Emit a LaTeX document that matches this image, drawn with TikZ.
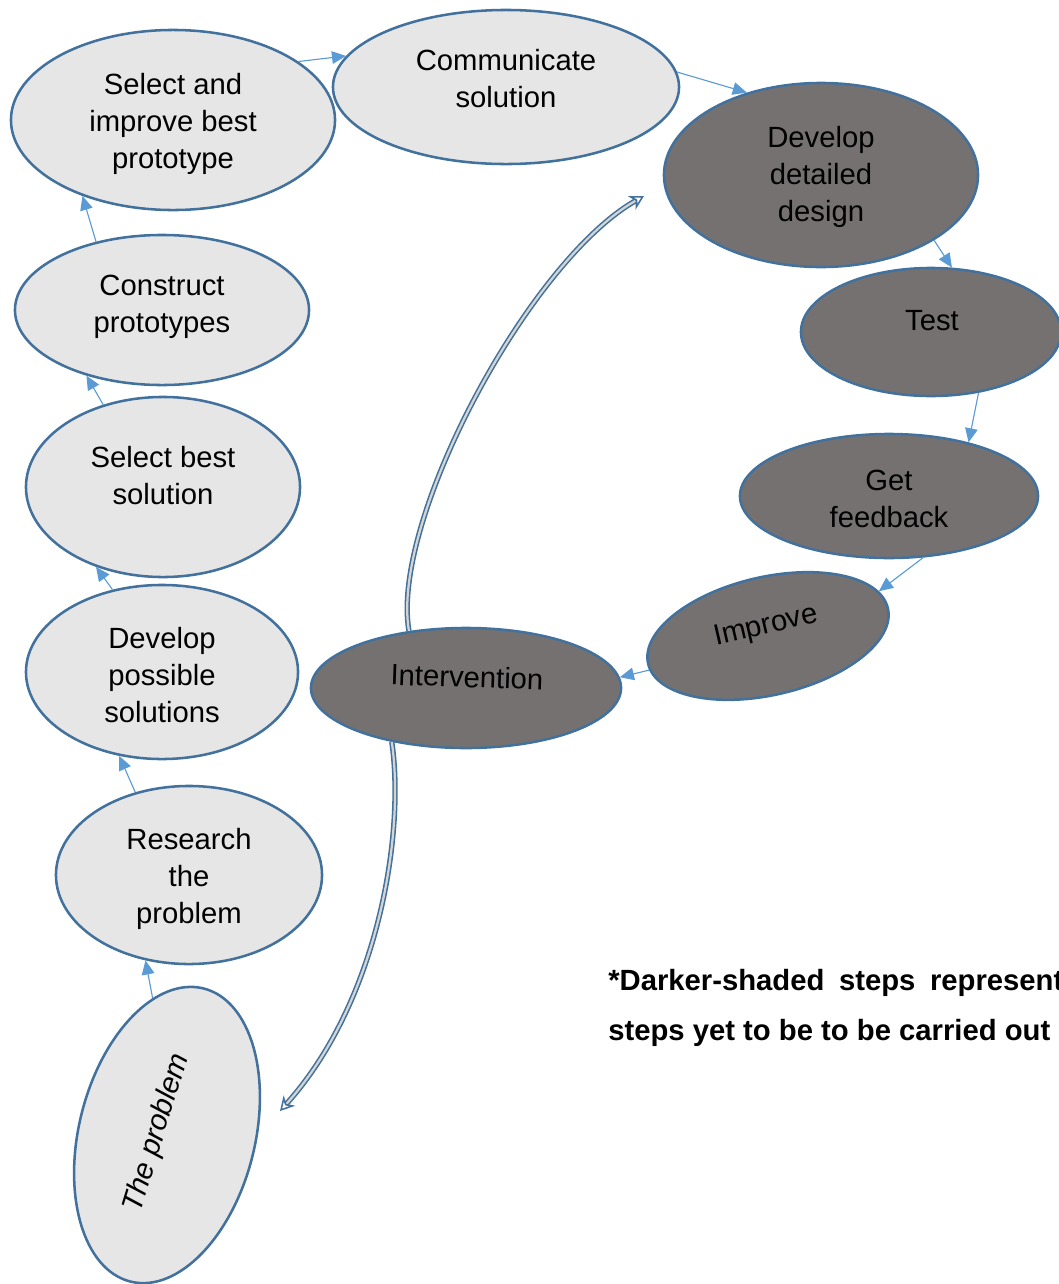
\documentclass[tikz,border=0pt]{standalone}
\usepackage{fontspec}
\setmainfont{Liberation Sans}
\usetikzlibrary{arrows.meta,shapes.geometric}
\definecolor{stepline}{HTML}{41719C}
\definecolor{stepfill}{HTML}{E6E6E6}
\definecolor{todofill}{HTML}{767171}
\definecolor{linkcol}{HTML}{5B9BD5}
\definecolor{hollowfill}{HTML}{D4D4D4}

\begin{document}
\begin{tikzpicture}[x=0.025cm,y=-0.025cm,ellr/.style 2 args={minimum width=#1*0.05cm,minimum height=#2*0.05cm}]
	\tikzstyle{done}=[ellipse,draw=stepline,line width=1.8pt,fill=stepfill,inner sep=0pt]
	\tikzstyle{todo}=[ellipse,draw=stepline,line width=1.8pt,fill=todofill,inner sep=0pt]
	\tikzstyle{steptxt}=[align=center,inner sep=0pt,font=\fontsize{20.8}{26.3}\selectfont]
	\tikzstyle{link}=[draw=linkcol,line width=0.8pt,-{Triangle[length=10pt,width=9pt]}]
	\tikzstyle{hollow}=[draw=stepline,line width=1.1pt,double=hollowfill,double distance=1.6pt,-{Stealth[open,length=10pt,width=11pt]}]
	\tikzstyle{note}=[anchor=base west,inner sep=0pt,font=\fontsize{20.8}{26.3}\selectfont\bfseries]

	\useasboundingbox (0,0) rectangle (1059,1284);

	\node[done,ellr={162}{90}] (sip) at (173,120) {};
	\node[steptxt] (sip-t) at (173,124) {Select and\\improve best\\prototype};
	\node[done,ellr={173}{77}] (comm) at (506,87) {};
	\node[steptxt] (comm-t) at (506,79) {Communicate\\solution};
	\node[todo,ellr={157}{92}] (ddd) at (821,175) {};
	\node[steptxt] (ddd-t) at (821,177) {Develop\\detailed\\design};
	\node[todo,ellr={130}{64}] (test) at (931,332) {};
	\node[steptxt] (test-t) at (932,321) {Test};
	\node[todo,ellr={149}{62}] (gf) at (889,496) {};
	\node[steptxt] (gf-t) at (889,499) {Get\\feedback};
	\node[todo,ellr={123}{59},rotate=13] (imp) at (768,636) {};
	\node[steptxt,rotate=13] (imp-t) at (766,627) {Improve};
	\node[todo,ellr={155}{60}] (intv) at (466,688) {};
	\node[steptxt,rotate=-2] (intv-t) at (467,677) {Intervention};

	\node[done,ellr={147}{75}] (cp) at (162,310) {};
	\node[steptxt] (cp-t) at (162,307) {Construct\\prototypes};
	\node[done,ellr={137}{90}] (sbs) at (163,487) {};
	\node[steptxt] (sbs-t) at (163,476) {Select best\\solution};
	\node[done,ellr={136}{87}] (dps) at (162,672) {};
	\node[steptxt] (dps-t) at (162,675) {Develop\\possible\\solutions};
	\node[done,ellr={133}{89}] (rsch) at (189,875) {};
	\node[steptxt] (rsch-t) at (189,879) {Research\\the\\problem};
	\node[done,ellr={151}{88},rotate=76] (prob) at (167,1135) {};
	\node[steptxt,rotate=73,font=\fontsize{20.8}{26.3}\selectfont\itshape] (prob-t) at (157,1133) {The problem};

	\draw[link] (prob.20) -- (rsch.243);
	\draw[link] (rsch.123) -- (dps.243);
	\draw[link] (dps.121) -- (sbs.230);
	\draw[link] (sbs.126) -- (cp.221);
	\draw[link] (cp.134) -- (sip.220);
	\draw[link] (sip.25) -- (comm.169);
	\draw[link] (comm.5) -- (ddd.132);
	\draw[link] (ddd.-30) -- (test.72);
	\draw[link] (test.-52) -- (gf.34);
	\draw[link] (gf.-61) -- (imp.9);
	\draw[link] (imp.183) -- (intv.4);

	\coordinate (to-ddd) at (644,196);
	\coordinate (to-prob) at (280,1111);
	\draw[hollow] (intv.135) .. controls (390,520) and (530,260) .. (to-ddd);
	\draw[hollow] (intv.216) .. controls (405,830) and (380,1000) .. (to-prob);

	\node[note] (note1) at (608,990) {\makebox[11.375cm][s]{*Darker-shaded steps represent}};
	\node[note] (note2) at (608,1040) {steps yet to be to be carried out};
\end{tikzpicture}
\end{document}
